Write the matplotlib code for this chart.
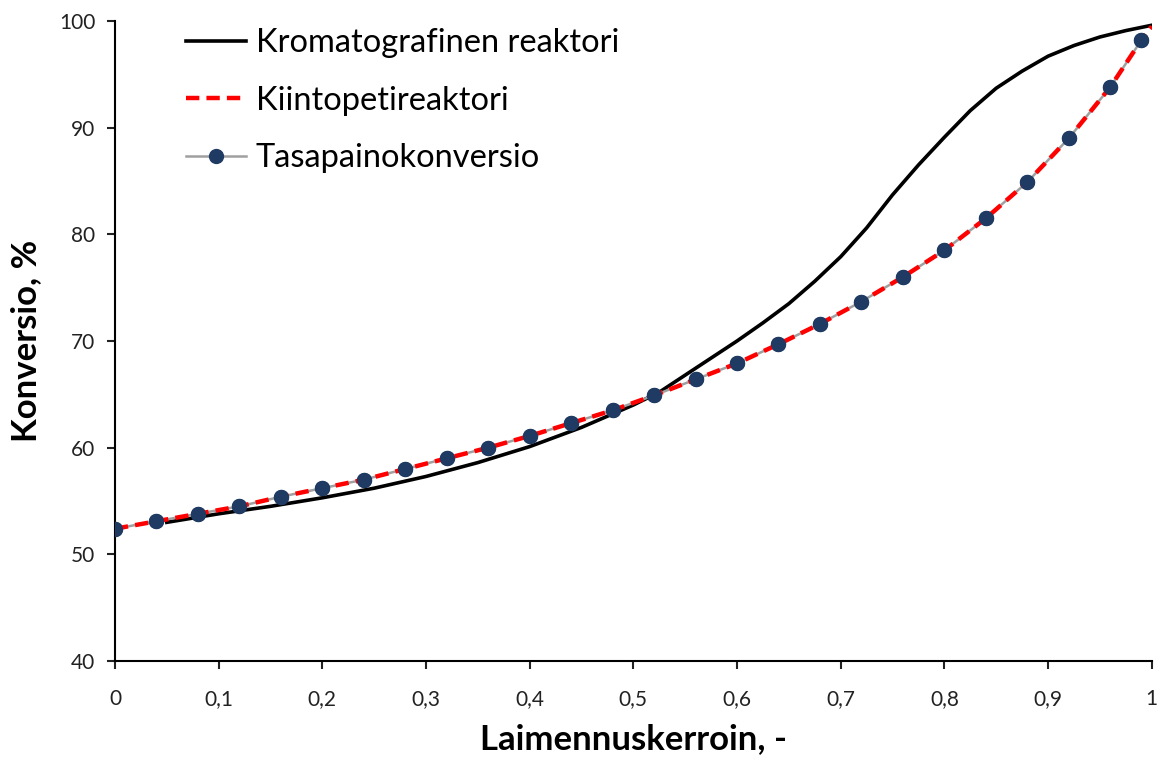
import matplotlib.pyplot as plt
import numpy as np

# chromatographic reactor conversion vs. dilution factor
krom_x = [0.05, 0.10, 0.15, 0.20, 0.25, 0.30, 0.35, 0.40, 0.45, 0.50,
          0.525, 0.55, 0.575, 0.60, 0.625, 0.65, 0.675, 0.70, 0.725, 0.75,
          0.775, 0.80, 0.825, 0.85, 0.875, 0.90, 0.925, 0.95, 0.975, 1.00]
krom_y = [53.0, 53.8, 54.5, 55.3, 56.2, 57.3, 58.6, 60.1, 61.9, 64.0,
          65.2, 66.8, 68.4, 70.0, 71.7, 73.5, 75.6, 77.9, 80.6, 83.7,
          86.5, 89.1, 91.6, 93.7, 95.3, 96.7, 97.7, 98.5, 99.1, 99.6]

# fixed bed reactor
kiinto_x = [0, 0.04, 0.08, 0.12, 0.16, 0.20, 0.24, 0.28, 0.32, 0.36, 0.40, 0.44, 0.48,
            0.52, 0.56, 0.60, 0.64, 0.68, 0.72, 0.76, 0.80, 0.84, 0.88, 0.92, 0.96, 0.99, 1.00]
kiinto_y = [52.4, 53.1, 53.8, 54.5, 55.4, 56.2, 57.0, 58.0, 59.0, 60.0, 61.1, 62.3, 63.5,
            64.9, 66.4, 67.9, 69.7, 71.6, 73.7, 76.0, 78.5, 81.5, 84.9, 89.0, 93.8, 98.2, 99.5]

# equilibrium conversion
tasa_x = [0, 0.04, 0.08, 0.12, 0.16, 0.20, 0.24, 0.28, 0.32, 0.36, 0.40, 0.44, 0.48,
          0.52, 0.56, 0.60, 0.64, 0.68, 0.72, 0.76, 0.80, 0.84, 0.88, 0.92, 0.96, 0.99]
tasa_y = [52.4, 53.1, 53.8, 54.5, 55.4, 56.2, 57.0, 58.0, 59.0, 60.0, 61.1, 62.3, 63.5,
          64.9, 66.4, 67.9, 69.7, 71.6, 73.7, 76.0, 78.5, 81.5, 84.9, 89.0, 93.8, 98.2]

x_ticks = [0, 0.1, 0.2, 0.3, 0.4, 0.5, 0.6, 0.7, 0.8, 0.9, 1.0]
x_labels = ["0", "0,1", "0,2", "0,3", "0,4", "0,5", "0,6", "0,7", "0,8", "0,9", "1"]
y_ticks = [40, 50, 60, 70, 80, 90, 100]

plt.rcParams['font.family'] = ['Lato', 'DejaVu Sans']

fig = plt.figure(figsize=(11.61, 7.61), dpi=100)
ax = fig.add_axes([0.099, 0.1314, 0.893, 0.841])

navy = "#1f3b63"
ax.plot(krom_x, krom_y, color="black", lw=2.6, label="Kromatografinen reaktori", zorder=2)
ax.plot(kiinto_x, kiinto_y, color="#ff0000", lw=3.2, ls=(0, (3, 1.6)),
        label="Kiintopetireaktori", zorder=4)
ax.plot(tasa_x, tasa_y, color="#a0a0a0", lw=1.8, marker="o", ms=10,
        mfc=navy, mec=navy, label="Tasapainokonversio", zorder=3)
# markers again on top of the dashed line
ax.plot(tasa_x, tasa_y, ls="none", marker="o", ms=10, mfc=navy, mec=navy, zorder=5)

ax.set_xlim(0, 1)
ax.set_ylim(40, 100)
ax.set_xticks(x_ticks)
ax.set_xticklabels(x_labels)
ax.set_yticks(y_ticks)
ax.tick_params(direction="out", length=6, width=1.5, labelsize=15, colors="#222222")
ax.tick_params(axis="x", pad=14)
ax.tick_params(axis="y", pad=8)
for side in ["top", "right"]:
    ax.spines[side].set_visible(False)
for side in ["left", "bottom"]:
    ax.spines[side].set_linewidth(1.5)

ax.set_xlabel("Laimennuskerroin, -", fontsize=25, fontweight="bold", labelpad=10)
ax.set_ylabel("Konversio, %", fontsize=25, fontweight="bold", labelpad=12)

ax.legend(loc="upper left", bbox_to_anchor=(0.04, 1.035), frameon=False,
          fontsize=23.5, handlelength=1.85, handletextpad=0.3, labelspacing=0.85)

fig.savefig("out.png", dpi=100)
